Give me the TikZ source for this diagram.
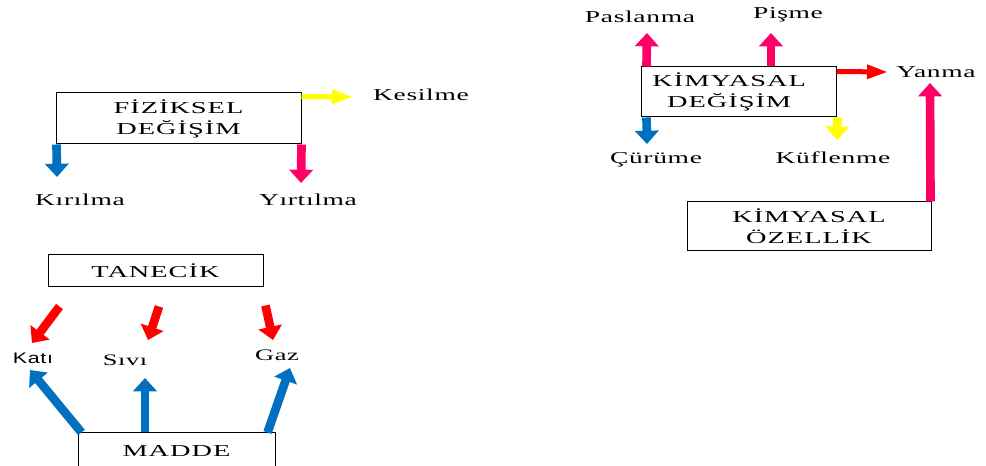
\documentclass[tikz,border=0pt]{standalone}
\usepackage{fontspec}
\setmainfont{Liberation Serif}
\newfontfamily\boxfont[FakeStretch=1.7,LetterSpace=6]{Liberation Serif}
\newfontfamily\lblfont[FakeStretch=1.65,LetterSpace=4]{Liberation Serif}
\newfontfamily\lblsans[FakeStretch=1.4,LetterSpace=4]{Liberation Sans}
\usetikzlibrary{calc,arrows.meta}
\definecolor{okblue}{RGB}{0,112,192}
\definecolor{okpink}{RGB}{255,0,102}
\definecolor{okred}{RGB}{255,0,0}
\definecolor{okyellow}{RGB}{255,255,0}
\tikzset{
	kutu/.style={draw, line width=0.75pt, inner sep=0pt, align=center, font=\boxfont\fontsize{12.5}{15.75}\selectfont},
	etiket/.style={inner sep=0pt, font=\lblfont\fontsize{12.5}{15}\selectfont},
	kalin/.style={line width=6.5pt, -{Triangle[width=17.5pt,length=10pt]}},
	ince/.style={line width=3.75pt, -{Triangle[width=10pt,length=15.75pt]}}
}

\begin{document}
\begin{tikzpicture}[x=0.75pt, y=-0.75pt]
		%%%%% START %%%%%
		\useasboundingbox (0, 0) rectangle (986, 466);
		
		% fiziksel degisim
		\node[kutu, minimum width=183.75pt, minimum height=38.25pt] (fiz) at (178.5, 118.5) {FİZİKSEL\\DEĞİŞİM};
		\node[etiket] (kes) at (421, 95) {Kesilme};
		\node[etiket] (kir) at (80, 200) {Kırılma};
		\node[etiket] (yir) at (308, 200) {Yırtılma};
		
		\draw[ince, color=okyellow] ($(fiz.north east)+(0, 4)$) -- ($(kes)+(-68, 2)$);
		\draw[kalin, color=okblue] ($(fiz.south west)+(1, 0)$) -- ($(kir)+(-23, -23)$);
		\draw[kalin, color=okpink] (fiz.south east) -- ($(yir)+(-7, -17)$);
		
		% tanecik ve madde
		\node[kutu, minimum width=161.25pt, minimum height=24pt] (tan) at (155.5, 271) {TANECİK};
		\node[kutu, minimum width=147.75pt, minimum height=27pt] (mad) at (176.5, 451) {MADDE};
		\node[inner sep=0pt, font=\lblsans\fontsize{11.5}{14}\selectfont] (kati) at (33, 358) {Katı};
		\node[etiket, font=\lblfont\fontsize{12}{14}\selectfont] (sivi) at (125, 360) {Sıvı};
		\node[etiket, font=\lblfont\fontsize{12}{14}\selectfont] (gaz) at (277, 355) {Gaz};
		
		\draw[kalin, color=okred] ($(tan.south west)+(12, 19)$) -- ($(kati)+(-1, -15)$);
		\draw[kalin, color=okred] ($(tan.south)+(3.5, 19)$) -- ($(sivi)+(23, -20)$);
		\draw[kalin, color=okred] ($(tan.south east)+(2, 18)$) -- ($(gaz)+(-4, -15)$);
		
		\draw[kalin, color=okblue] ($(mad.north west)+(4, 0)$) -- ($(kati)+(-3, 12)$);
		\draw[kalin, color=okblue] ($(mad.north)+(-31.5, 0)$) -- ($(sivi)+(20, 18)$);
		\draw[kalin, color=okblue] ($(mad.north east)+(-8, 0)$) -- ($(gaz)+(13, 13)$);
		
		% kimyasal degisim
		\node[kutu, minimum width=146.25pt, minimum height=37.5pt] (kim) at (738.5, 92) {KİMYASAL\hspace*{14pt}\\DEĞİŞİM\hspace*{14pt}};
		\node[etiket] (pas) at (640, 17) {Paslanma};
		\node[etiket] (pis) at (788, 15) {Pişme};
		\node[etiket] (yan) at (936, 72) {Yanma};
		\node[etiket] (cur) at (656, 160) {Çürüme};
		\node[etiket] (kuf) at (833, 158) {Küflenme};
		\node[kutu, minimum width=183pt, minimum height=36.75pt] (ozl) at (809, 226.5) {KİMYASAL\\ÖZELLİK};
		
		\draw[kalin, color=okpink] ($(kim.north west)+(6, 0)$) -- ($(pas)+(7, 16)$);
		\draw[kalin, color=okpink] ($(kim.north)+(32.5, 0)$) -- ($(pis)+(-17, 18)$);
		\draw[ince, color=okred] ($(kim.north east)+(0, 5)$) -- ($(yan)+(-48, 0)$);
		\draw[kalin, color=okblue] ($(kim.south west)+(6, 0)$) -- ($(cur)+(-9, -16)$);
		\draw[kalin, color=okyellow] ($(kim.south east)+(1, 0)$) -- ($(kuf)+(4, -18)$);
		\draw[kalin, color=okpink] ($(ozl.north east)+(-1, 0)$) -- ($(yan)+(-6, 11)$);
		
		%%%%% END %%%%%
	\end{tikzpicture}
\end{document}
